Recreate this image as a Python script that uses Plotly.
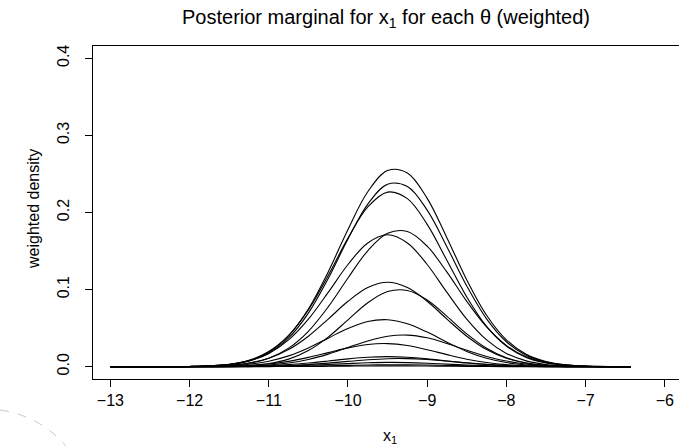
"""posterior marginal for x1, one weighted density curve per theta"""
import plotly.graph_objects as go

# x grid the curves were read at
x1_grid = [-13, -12, -11.5, -11.25, -11, -10.75, -10.5, -10.25, -10, -9.75, -9.5,
           -9.25, -9, -8.75, -8.5, -8.25, -8, -7.75, -7.5, -7.25, -7, -6.43]

# weighted density per theta (tallest first)
dens_1 = [0, 0.0003, 0.0029, 0.0078, 0.0189, 0.0400, 0.0748, 0.1229, 0.1780, 0.2268, 0.2544,
          0.2512, 0.2183, 0.1670, 0.1125, 0.0667, 0.0348, 0.0160, 0.0065, 0.0023, 0.0007, 0]
dens_2 = [0, 0.0002, 0.0027, 0.0073, 0.0175, 0.0372, 0.0695, 0.1143, 0.1655, 0.2109, 0.2366,
          0.2336, 0.2030, 0.1553, 0.1046, 0.0620, 0.0323, 0.0149, 0.0060, 0.0021, 0.0007, 0]
dens_3 = [0, 0.0003, 0.0031, 0.0083, 0.0196, 0.0405, 0.0737, 0.1182, 0.1667, 0.2071, 0.2264,
          0.2179, 0.1846, 0.1377, 0.0904, 0.0522, 0.0266, 0.0119, 0.0047, 0.0016, 0.0005, 0]
dens_4 = [0, 0.0001, 0.0016, 0.0044, 0.0110, 0.0240, 0.0459, 0.0775, 0.1150, 0.1503, 0.1730,
          0.1752, 0.1562, 0.1226, 0.0847, 0.0515, 0.0276, 0.0130, 0.0054, 0.0020, 0.0006, 0]
dens_5 = [0, 0.0003, 0.0029, 0.0075, 0.0172, 0.0347, 0.0616, 0.0963, 0.1325, 0.1604, 0.1710,
          0.1604, 0.1325, 0.0963, 0.0616, 0.0347, 0.0172, 0.0075, 0.0029, 0.0010, 0.0003, 0]
dens_6 = [0, 0.0002, 0.0019, 0.0048, 0.0110, 0.0222, 0.0395, 0.0617, 0.0848, 0.1027, 0.1095,
          0.1027, 0.0848, 0.0617, 0.0395, 0.0222, 0.0110, 0.0048, 0.0019, 0.0006, 0.0002, 0]
dens_7 = [0, 0, 0.0004, 0.0014, 0.0040, 0.0098, 0.0209, 0.0383, 0.0607, 0.0828, 0.0974,
          0.0988, 0.0865, 0.0653, 0.0425, 0.0239, 0.0116, 0.0048, 0.0017, 0.0005, 0.0002, 0]
dens_8 = [0, 0.0001, 0.0013, 0.0032, 0.0071, 0.0140, 0.0243, 0.0370, 0.0496, 0.0586, 0.0609,
          0.0557, 0.0448, 0.0318, 0.0198, 0.0109, 0.0053, 0.0022, 0.0008, 0.0003, 0.0001, 0]
dens_9 = [0, 0, 0.0003, 0.0009, 0.0022, 0.0048, 0.0094, 0.0163, 0.0249, 0.0334, 0.0394,
          0.0409, 0.0374, 0.0301, 0.0213, 0.0133, 0.0073, 0.0035, 0.0015, 0.0006, 0.0002, 0]
dens_10 = [0, 0.0001, 0.0006, 0.0016, 0.0035, 0.0069, 0.0120, 0.0182, 0.0244, 0.0288, 0.0299,
           0.0274, 0.0220, 0.0156, 0.0097, 0.0054, 0.0026, 0.0011, 0.0004, 0.0001, 0, 0]
dens_11 = [0, 0, 0.0002, 0.0006, 0.0013, 0.0026, 0.0047, 0.0073, 0.0101, 0.0122, 0.0130,
           0.0122, 0.0101, 0.0073, 0.0047, 0.0026, 0.0013, 0.0006, 0.0002, 0.0001, 0, 0]
dens_12 = [0, 0, 0.0001, 0.0003, 0.0007, 0.0014, 0.0027, 0.0046, 0.0068, 0.0089, 0.0103,
           0.0104, 0.0093, 0.0073, 0.0050, 0.0031, 0.0016, 0.0008, 0.0003, 0.0001, 0, 0]
dens_13 = [0, 0, 0.0001, 0.0002, 0.0005, 0.0010, 0.0018, 0.0029, 0.0040, 0.0050, 0.0055,
           0.0053, 0.0045, 0.0033, 0.0022, 0.0013, 0.0006, 0.0003, 0.0001, 0, 0, 0]
dens_14 = [0, 0, 0, 0.0001, 0.0002, 0.0004, 0.0007, 0.0012, 0.0017, 0.0022, 0.0025,
           0.0024, 0.0021, 0.0016, 0.0011, 0.0007, 0.0003, 0.0002, 0.0001, 0, 0, 0]
dens_15 = [0, 0, 0, 0, 0.0001, 0.0002, 0.0003, 0.0005, 0.0007, 0.0009, 0.0010,
           0.0010, 0.0008, 0.0006, 0.0004, 0.0002, 0.0001, 0.0001, 0, 0, 0, 0]

curves = [dens_1, dens_2, dens_3, dens_4, dens_5, dens_6, dens_7, dens_8,
          dens_9, dens_10, dens_11, dens_12, dens_13, dens_14, dens_15]

x_ticks = [-13, -12, -11, -10, -9, -8, -7, -6]
y_ticks = [0.0, 0.1, 0.2, 0.3, 0.4]
y_tick_text = ["0.0", "0.1", "0.2", "0.3", "0.4"]

FONT = "Liberation Sans, Arial, Helvetica, sans-serif"

W, H = 679, 446
PX0 = 93   # x of the plot box left edge
PW = 586   # plot box width inside the window (box runs off the right edge)
PY1 = 379  # y of the plot box bottom
PH = 333   # plot box height

fig = go.Figure()
for dens in curves:
    fig.add_trace(go.Scatter(
        x=x1_grid, y=dens, mode="lines",
        line=dict(color="black", width=1.1, shape="spline", smoothing=1.0),
        hoverinfo="skip", showlegend=False,
    ))

fig.update_layout(
    width=W, height=H,
    margin=dict(l=PX0, r=W - PX0 - PW, t=PY1 - PH, b=H - PY1),
    paper_bgcolor="white", plot_bgcolor="white",
    font=dict(family=FONT, size=16, color="black"),
    title=dict(text="Posterior marginal for x<sub>1</sub> for each θ (weighted)",
               font=dict(size=20), x=0.5, xref="paper", xanchor="center",
               y=1 - 17 / H, yref="container", yanchor="middle"),
    showlegend=False,
)

fig.update_xaxes(range=[-13.22, -5.82], tickvals=x_ticks, ticks="outside", ticklen=7,
                 tickcolor="black", tickwidth=1, showline=True, linecolor="black",
                 linewidth=1, mirror=True, showgrid=False, zeroline=False,
                 tickfont=dict(size=16))
fig.update_yaxes(range=[-0.016, 0.4159], tickvals=y_ticks, ticktext=y_tick_text,
                 tickangle=-90, ticks="outside", ticklen=7, tickcolor="black",
                 tickwidth=1, showline=True, linecolor="black", linewidth=1,
                 showgrid=False, zeroline=False, ticklabelstandoff=10,
                 tickfont=dict(size=16))

# axis titles, placed like R's mtext lines
fig.add_annotation(text="x<sub>1</sub>", xref="paper", yref="paper",
                   x=0.507, y=(PY1 - 436) / PH, showarrow=False,
                   xanchor="center", yanchor="middle", font=dict(size=16))
fig.add_annotation(text="weighted density", xref="paper", yref="paper",
                   x=(33 - PX0) / PW, y=(PY1 - 209) / PH, textangle=-90, showarrow=False,
                   xanchor="center", yanchor="middle", font=dict(size=16))

# faint dashed arc cut off in the lower left corner of the original image
fig.add_shape(type="path", xref="paper", yref="paper",
              path="M %.4f,%.4f Q %.4f,%.4f %.4f,%.4f" % (
                  (0 - PX0) / PW, (PY1 - 410) / PH,
                  (40 - PX0) / PW, (PY1 - 416) / PH,
                  (66 - PX0) / PW, (PY1 - 446) / PH),
              line=dict(color="#c8c8c8", width=1, dash="dash"))

# drop the page's default body margin so the figure sits at the window corner
fig.write_html("out.html",
               config={"displayModeBar": False},
               post_script="document.body.style.margin='0';"
                           "document.body.style.overflow='hidden';")
